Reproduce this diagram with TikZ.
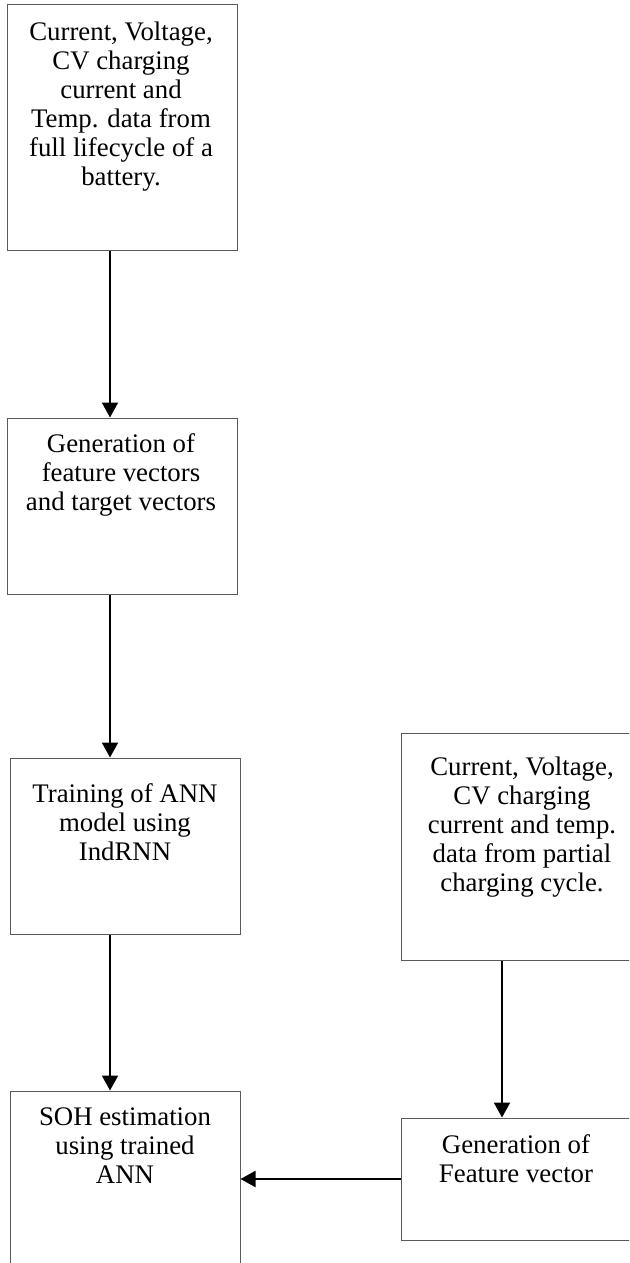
\documentclass[tikz,border=0pt]{standalone}
\usepackage{fontspec}
\setmainfont{Liberation Serif}
\usetikzlibrary{arrows.meta}
\tikzset{
  box/.style={draw=black!65, line width=1pt, inner sep=0pt},
  txt/.style={anchor=north, align=center, inner sep=0pt, font=\fontsize{26.8}{29}\selectfont},
  arr/.style={line width=2pt, -{Triangle[width=16pt,length=15pt]}},
}
\begin{document}
\begin{tikzpicture}[x=1pt,y=-1pt]
\clip (0,0) rectangle (629,1263);
\fill[white] (0,0) rectangle (629,1263);
% boxes
\node[box, minimum width=230pt, minimum height=245pt] (b1) at (122,127.5) {};
\node[box, minimum width=230pt, minimum height=176pt] (b2) at (122,506) {};
\node[box, minimum width=230pt, minimum height=176pt] (b3) at (125,846) {};
\node[box, minimum width=230pt, minimum height=209pt] (b4) at (125,1195.5) {};
\node[box, minimum width=242pt, minimum height=227pt] (b5) at (522,846.5) {};
\node[box, minimum width=242pt, minimum height=122pt] (b6) at (522,1179) {};
% texts
\node[txt] (t1) at (121,21.7) {Current, Voltage,\\CV charging\\current and\\Temp. data from\\full lifecycle of a\\battery.};
\node[txt] (t2) at (121,433.7) {Generation of\\feature vectors\\and target vectors};
\node[txt] (t3) at (125,783.7) {Training of ANN\\model using\\IndRNN};
\node[txt] (t4) at (125,1107.7) {SOH estimation\\using trained\\ANN};
\node[txt] (t5) at (522,756.7) {Current, Voltage,\\CV charging\\current and temp.\\data from partial\\charging cycle.};
\node[txt] (t6) at (516,1134.7) {Generation of\\Feature vector};
% arrows
\draw[arr] ([xshift=-12pt]b1.south) -- ([xshift=-12pt]b2.north);
\draw[arr] ([xshift=-12pt]b2.south) -- ([xshift=-15pt]b3.north);
\draw[arr] ([xshift=-15pt]b3.south) -- ([xshift=-15pt]b4.north);
\draw[arr] ([xshift=-20pt]b5.south) -- ([xshift=-20pt]b6.north);
\draw[arr] (b6.west) -- (b6.west -| b4.east);
\end{tikzpicture}
\end{document}
